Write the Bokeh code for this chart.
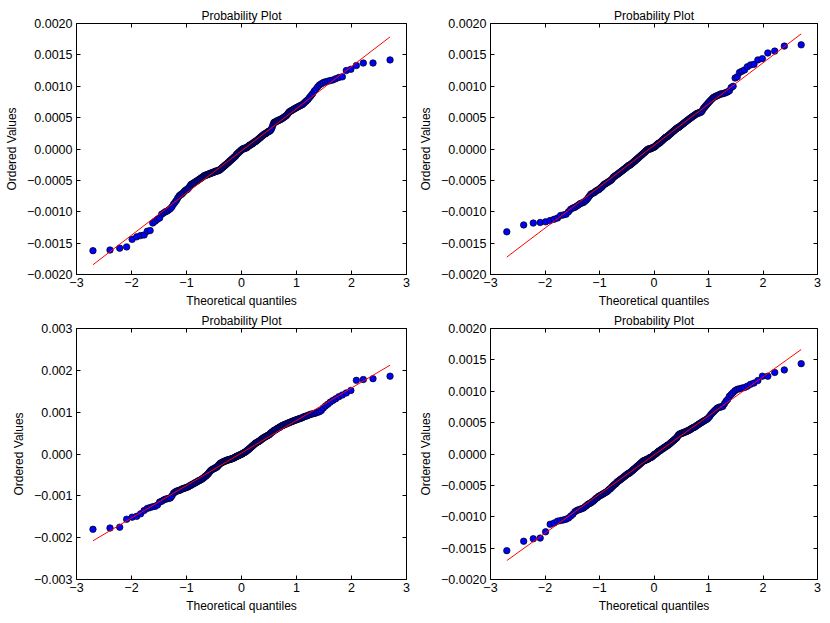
import math
import numpy as np
from bokeh.plotting import figure
from bokeh.layouts import column, row
from bokeh.models import LinearAxis, FixedTicker, CustomJSTickFormatter, Range1d
from bokeh.embed import file_html
from bokeh.resources import INLINE

# ---------------- data (ordered values, in units of 1e-5) ----------------
SCALE = 1e-5

p1_values = [
    -162, -161, -158, -156, -144, -140, -138, -137, -131, -130,
    -118, -115, -112, -110, -104, -102, -100, -99, -97, -95,
    -92, -88, -85, -82, -78, -75, -73, -72, -70, -68,
    -66, -65, -64, -62, -60, -57, -56, -55, -54, -53,
    -52, -51, -50, -49, -48, -47, -46, -45, -44, -43,
    -42, -42, -41, -41, -40, -40, -39, -39, -38, -38,
    -37, -37, -36, -36, -35, -35, -35, -34, -34, -33,
    -32, -31, -30, -29, -28, -27, -26, -25, -24, -23,
    -22, -21, -20, -19, -18, -17, -16, -15, -14, -13,
    -12, -11, -9, -8, -7, -6, -5, -4, -3, -2,
    -1, 0, 0, 1, 1, 1, 2, 2, 3, 4,
    5, 6, 6, 7, 8, 8, 9, 10, 11, 12,
    12, 13, 14, 15, 16, 17, 18, 19, 20, 21,
    22, 23, 24, 24, 25, 26, 27, 28, 28, 29,
    30, 32, 35, 39, 42, 43, 43, 44, 45, 45,
    46, 47, 47, 48, 49, 50, 51, 52, 53, 55,
    57, 59, 60, 61, 62, 63, 64, 65, 66, 67,
    68, 69, 70, 71, 73, 75, 77, 79, 82, 85,
    88, 92, 95, 99, 102, 104, 106, 107, 108, 109,
    110, 112, 114, 115, 125, 127, 133, 137, 137, 142,
]

p2_values = [
    -132, -121, -118, -117, -116, -114, -112, -110, -106, -105,
    -104, -100, -96, -94, -93, -91, -89, -87, -86, -85,
    -83, -81, -78, -75, -72, -71, -70, -69, -67, -66,
    -65, -64, -62, -61, -59, -57, -56, -55, -54, -53,
    -52, -51, -50, -49, -47, -45, -44, -43, -42, -41,
    -40, -39, -38, -37, -36, -35, -34, -33, -32, -31,
    -30, -29, -28, -27, -26, -26, -25, -24, -23, -22,
    -21, -20, -19, -18, -17, -16, -15, -14, -13, -12,
    -11, -10, -9, -8, -7, -6, -5, -4, -3, -2,
    -1, 0, 0, 0, 0, 1, 1, 2, 2, 3,
    3, 4, 5, 6, 7, 8, 9, 9, 10, 11,
    12, 13, 14, 15, 16, 17, 18, 19, 19, 20,
    21, 22, 23, 24, 25, 26, 27, 28, 29, 30,
    31, 32, 33, 34, 34, 35, 36, 37, 38, 39,
    40, 41, 42, 43, 44, 45, 46, 47, 48, 49,
    50, 51, 52, 53, 54, 55, 56, 57, 57, 58,
    58, 59, 61, 64, 66, 68, 70, 72, 74, 76,
    78, 80, 82, 83, 84, 85, 86, 87, 88, 88,
    89, 90, 91, 93, 98, 100, 113, 115, 122, 124,
    126, 131, 134, 135, 142, 144, 153, 156, 164, 166,
]

p3_values = [
    -180, -177, -175, -156, -151, -149, -143, -135, -130, -128,
    -126, -125, -122, -115, -113, -110, -108, -107, -106, -105,
    -100, -94, -91, -89, -88, -87, -86, -84, -83, -82,
    -81, -80, -79, -78, -76, -75, -73, -72, -71, -69,
    -68, -67, -65, -64, -63, -62, -61, -59, -58, -56,
    -54, -53, -51, -49, -47, -44, -42, -40, -38, -37,
    -36, -35, -34, -33, -32, -31, -29, -27, -25, -23,
    -22, -21, -20, -19, -18, -18, -17, -16, -15, -15,
    -14, -14, -13, -13, -12, -12, -11, -10, -10, -9,
    -8, -7, -6, -5, -5, -4, -3, -2, -2, -1,
    0, 1, 2, 3, 4, 5, 6, 7, 9, 10,
    11, 13, 14, 16, 17, 19, 20, 22, 23, 25,
    26, 27, 28, 29, 30, 31, 32, 34, 35, 36,
    38, 39, 40, 41, 42, 43, 44, 45, 46, 48,
    50, 51, 53, 54, 56, 57, 58, 59, 61, 62,
    63, 64, 66, 67, 68, 69, 70, 71, 72, 73,
    74, 75, 76, 77, 78, 79, 80, 81, 82, 83,
    84, 85, 86, 87, 89, 90, 91, 92, 94, 95,
    96, 97, 98, 100, 101, 104, 110, 115, 119, 124,
    128, 132, 137, 141, 146, 152, 176, 178, 180, 186,
]

p4_values = [
    -154, -139, -135, -134, -124, -112, -110, -107, -106, -105,
    -104, -102, -99, -96, -92, -90, -89, -88, -87, -86,
    -84, -82, -80, -79, -78, -76, -75, -73, -71, -70,
    -68, -67, -66, -65, -64, -63, -62, -61, -60, -59,
    -57, -56, -55, -53, -52, -50, -49, -48, -47, -45,
    -44, -43, -42, -41, -40, -39, -38, -37, -36, -35,
    -34, -33, -32, -31, -31, -30, -29, -28, -27, -26,
    -25, -24, -23, -22, -21, -20, -19, -18, -17, -16,
    -15, -14, -13, -12, -11, -11, -10, -10, -9, -9,
    -8, -8, -7, -6, -6, -5, -5, -4, -3, -2,
    -1, 0, 0, 1, 2, 3, 4, 5, 5, 6,
    7, 8, 8, 9, 10, 11, 11, 12, 13, 14,
    14, 15, 16, 17, 18, 19, 20, 21, 22, 23,
    24, 25, 26, 28, 30, 31, 32, 32, 33, 33,
    34, 34, 35, 35, 36, 36, 37, 38, 38, 39,
    40, 41, 42, 42, 43, 44, 45, 46, 47, 48,
    49, 50, 51, 52, 53, 54, 55, 56, 58, 60,
    63, 65, 67, 69, 71, 73, 74, 75, 75, 76,
    80, 84, 87, 92, 95, 98, 101, 103, 104, 105,
    106, 108, 111, 113, 117, 124, 124, 130, 134, 144,
]

TITLE = "Probability Plot"
X_LABEL = "Theoretical quantiles"
Y_LABEL = "Ordered Values"
x_ticks = [-3, -2, -1, 0, 1, 2, 3]
y_ticks_small = [-0.002, -0.0015, -0.001, -0.0005, 0.0, 0.0005, 0.001, 0.0015, 0.002]
y_ticks_large = [-0.003, -0.002, -0.001, 0.0, 0.001, 0.002, 0.003]

FONT = "Liberation Sans"


def norm_cdf(z):
    return 0.5 * (1.0 + math.erf(z / math.sqrt(2.0)))


def norm_ppf(p):
    out = []
    for pi in p:
        lo, hi = -10.0, 10.0
        for _ in range(80):
            mid = 0.5 * (lo + hi)
            if norm_cdf(mid) < pi:
                lo = mid
            else:
                hi = mid
        out.append(0.5 * (lo + hi))
    return np.array(out)


def theoretical_quantiles(n):
    # Filliben's order statistic medians (as scipy.stats.probplot)
    m = np.empty(n)
    m[-1] = 0.5 ** (1.0 / n)
    m[0] = 1.0 - m[-1]
    i = np.arange(2, n)
    m[1:-1] = (i - 0.3175) / (n + 0.365)
    return norm_ppf(m)


def style_axis(ax, ticks, decimals, show_labels):
    ax.ticker = FixedTicker(ticks=ticks)
    ax.axis_line_color = None
    ax.major_tick_in = 4
    ax.major_tick_out = 0
    ax.major_tick_line_color = "black"
    ax.major_tick_line_width = 1
    ax.minor_tick_line_color = None
    if show_labels:
        ax.formatter = CustomJSTickFormatter(
            code="return tick.toFixed(%d).replace('-', '\u2212');" % decimals)
        ax.major_label_text_font = FONT
        ax.major_label_text_font_size = "12.5px"
        ax.major_label_text_color = "black"
        ax.axis_label_text_font = FONT
        ax.axis_label_text_font_size = "12px"
        ax.axis_label_text_font_style = "normal"
        ax.axis_label_text_color = "black"
    else:
        ax.major_label_text_font_size = "0px"
        ax.major_label_text_color = None
        ax.major_label_standoff = 0


def make_panel(values, y_ticks, decimals, width, height, left, right, top, bottom):
    y = np.sort(np.asarray(values, dtype=float)) * SCALE
    x = theoretical_quantiles(len(y))
    slope, intercept = np.polyfit(x, y, 1)

    p = figure(width=width, height=height, output_backend="svg", toolbar_location=None,
               x_range=Range1d(x_ticks[0], x_ticks[-1]),
               y_range=Range1d(y_ticks[0], y_ticks[-1]),
               min_border_left=left, min_border_right=right,
               min_border_top=top, min_border_bottom=bottom,
               title=TITLE)
    p.title.align = "center"
    p.title.text_font = FONT
    p.title.text_font_size = "12px"
    p.title.text_font_style = "normal"
    p.title.text_color = "black"
    p.title.standoff = 1
    p.title.text_line_height = 1.0

    p.grid.visible = False
    p.outline_line_color = "black"
    p.outline_line_width = 1
    p.background_fill_color = "white"
    p.border_fill_color = "white"

    style_axis(p.xaxis[0], x_ticks, 0, True)
    style_axis(p.yaxis[0], y_ticks, decimals, True)
    p.xaxis[0].axis_label = X_LABEL
    p.yaxis[0].axis_label = Y_LABEL
    p.xaxis[0].major_label_standoff = 3
    p.xaxis[0].axis_label_standoff = 4
    p.yaxis[0].major_label_standoff = 4
    p.yaxis[0].axis_label_standoff = 5

    top_ax = LinearAxis()
    style_axis(top_ax, x_ticks, 0, False)
    p.add_layout(top_ax, "above")
    right_ax = LinearAxis()
    style_axis(right_ax, y_ticks, decimals, False)
    p.add_layout(right_ax, "right")

    p.scatter(x, y, size=6.5, marker="circle", fill_color="#0000ff",
              line_color="black", line_width=0.7)
    xl = np.array([x.min(), x.max()])
    p.line(xl, slope * xl + intercept, line_color="#ff0000", line_width=1)
    return p


# page origin is (0, 0): frames placed to match the reference pixel positions
p1 = make_panel(p1_values, y_ticks_small, 4, 415, 311, 76, 9, 23, 37)
p2 = make_panel(p2_values, y_ticks_small, 4, 414, 311, 70, 12, 23, 37)
p3 = make_panel(p3_values, y_ticks_large, 3, 415, 311, 76, 9, 17, 43)
p4 = make_panel(p4_values, y_ticks_small, 4, 414, 311, 70, 12, 17, 43)

layout = column(row(p1, p2), row(p3, p4))

open("out.html", "w").write(file_html(layout, INLINE, "Probability Plot"))
